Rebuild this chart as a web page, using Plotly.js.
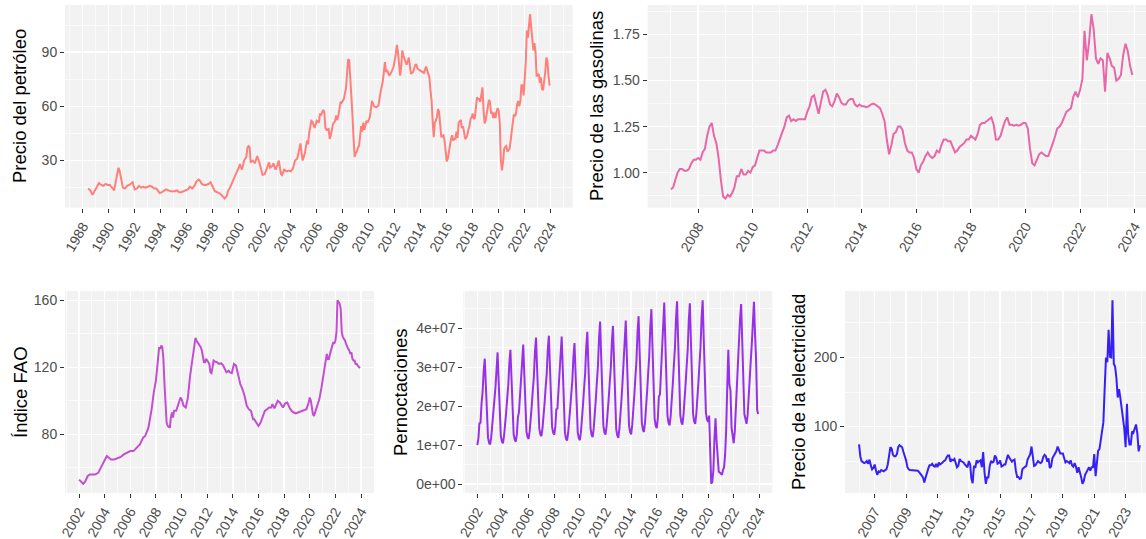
<!DOCTYPE html>
<html>
<head>
<meta charset="utf-8">
<script src="https://cdn.plot.ly/plotly-3.0.1.min.js"></script>
<style>
html,body{margin:0;padding:0;background:#ffffff;}
#chart{width:1146px;height:539px;}
</style>
</head>
<body>
<div id="chart"></div>
<script>
// ---------- helper for consecutive monthly dates ----------
function monthSeq(startYear, startMonth, n) {
  const out = [];
  for (let i = 0; i < n; i++) {
    const m = startMonth - 1 + i;
    const y = startYear + Math.floor(m / 12);
    const mm = (m % 12) + 1;
    out.push(y + '-' + String(mm).padStart(2, '0') + '-01');
  }
  return out;
}

// ---------- Precio del petróleo (irregular samples up to 2014, monthly from 2015) ----------
const oilDatesEarly = [
  '1988-06','1988-08','1988-10','1988-12',
  '1989-02','1989-04','1989-06','1989-08','1989-10','1989-12',
  '1990-02','1990-04','1990-06','1990-08','1990-10','1990-11','1990-12',
  '1991-02','1991-04','1991-06','1991-08','1991-10','1991-11',
  '1992-01','1992-03','1992-05','1992-07','1992-09','1992-11',
  '1993-01','1993-03','1993-05','1993-07','1993-09','1993-11','1993-12',
  '1994-02','1994-04','1994-06','1994-08','1994-10','1994-12',
  '1995-02','1995-04','1995-06','1995-08','1995-10','1995-12',
  '1996-02','1996-04','1996-06','1996-08','1996-10','1996-12',
  '1997-01','1997-03','1997-05','1997-07','1997-09','1997-11',
  '1998-01','1998-03','1998-05','1998-07','1998-09','1998-11','1998-12',
  '1999-02','1999-03','1999-05','1999-07','1999-09','1999-11',
  '2000-01','2000-02','2000-04','2000-06','2000-08','2000-09','2000-10','2000-11','2000-12',
  '2001-02','2001-04','2001-05','2001-06','2001-08','2001-10','2001-11',
  '2002-01','2002-03','2002-05','2002-06','2002-08','2002-09','2002-11',
  '2003-01','2003-02','2003-04','2003-05','2003-07','2003-09','2003-11',
  '2004-01','2004-03','2004-05','2004-07','2004-08','2004-10','2004-11','2004-12',
  '2005-02','2005-04','2005-05','2005-06','2005-08','2005-09','2005-11',
  '2006-01','2006-03','2006-04','2006-05','2006-07','2006-08','2006-09','2006-10','2006-12',
  '2007-01','2007-02','2007-04','2007-06','2007-07','2007-08','2007-09','2007-11','2007-12',
  '2008-02','2008-04','2008-05','2008-06','2008-07','2008-08','2008-09','2008-10','2008-11','2008-12',
  '2009-01','2009-02','2009-03','2009-04','2009-05','2009-06','2009-07','2009-08','2009-09','2009-10','2009-11','2009-12',
  '2010-02','2010-04','2010-05','2010-06','2010-08','2010-10','2010-12',
  '2011-02','2011-04','2011-05','2011-06','2011-08','2011-10','2011-11','2011-12',
  '2012-02','2012-03','2012-04','2012-05','2012-06','2012-07','2012-08','2012-09','2012-11','2012-12',
  '2013-02','2013-03','2013-04','2013-06','2013-08','2013-09','2013-10','2013-12',
  '2014-02','2014-04','2014-06','2014-07','2014-08','2014-09','2014-10','2014-11','2014-12'
];
const oilValuesEarly = [
  14.5,13.5,11.0,13.5,
  15.5,17.5,16.5,16.0,17.0,16.5,
  16.5,15.0,13.5,20.0,26.0,24.5,21.0,
  15.0,14.5,16.0,16.5,17.5,18.0,
  14.0,14.5,16.0,15.0,15.5,15.0,
  15.5,16.0,15.5,14.5,14.5,12.5,12.0,
  12.5,13.5,14.0,13.5,13.0,13.0,
  13.0,13.5,12.5,12.5,13.0,13.5,
  14.0,15.5,14.5,16.0,18.5,19.5,
  19.0,17.0,16.5,16.5,17.0,18.0,
  15.0,13.0,12.5,12.0,11.0,10.0,9.0,
  10.5,13.0,15.0,18.0,21.5,23.5,
  26.0,28.0,25.0,30.0,32.0,37.0,38.0,37.5,29.0,
  30.0,28.5,31.5,32.5,29.0,24.0,22.0,
  22.5,26.0,29.0,26.0,27.0,28.5,25.0,
  28.0,30.0,22.5,22.0,25.0,24.0,24.5,
  24.0,25.5,30.0,31.0,34.0,39.5,34.0,30.0,
  34.0,41.0,39.0,45.0,52.0,51.5,48.0,
  52.0,51.0,56.0,55.0,58.0,57.0,48.0,47.0,47.5,
  42.0,44.0,50.0,52.0,55.0,52.5,55.0,62.5,62.0,
  64.0,70.0,79.0,86.0,85.5,77.0,68.0,55.0,42.0,32.0,
  34.0,35.0,37.0,38.0,43.0,49.0,46.0,51.0,47.0,50.0,52.0,51.0,
  54.0,63.0,61.0,60.0,59.5,60.5,68.0,
  74.0,84.5,79.0,80.0,77.0,79.0,81.0,82.0,
  89.0,94.0,90.0,84.0,77.0,82.0,91.0,88.0,84.0,83.0,
  87.0,83.0,78.0,79.0,83.0,83.0,81.0,80.0,
  79.0,78.5,82.0,80.0,77.0,76.0,69.0,63.5,52.0
];
const oilValuesMonthly2015 = [
  43,51,52,54,58.5,57,51,43,43.5,44,41,35,
  29.5,31,35,37,42,44,41,42,42,46,42.5,51,
  52,52.5,48,49,46,42,42.5,44,47,49,53,54,
  56,53,53.5,58,65,64,64,62.5,67,70.5,58,50.5,
  52.5,56,59,63.5,62.5,56,57,53.5,56.5,53.5,57,59,
  57.5,50.5,30,24.5,29,36.5,37.5,38,35,35.5,36.5,41,
  45.5,51.5,55.5,54.5,56,61,63,60,63,72,71.5,66,
  75,85,102,98,105,111,104,98,91,95,90,77,
  77,78,73,76,69.5,69,73,79,87,85,77,71.5
];
const oilDates = oilDatesEarly.concat(monthSeq(2015, 1, oilValuesMonthly2015.length));
const oilValues = oilValuesEarly.concat(oilValuesMonthly2015);

// ---------- Precio de las gasolinas (monthly, 2007-01 .. 2023-12) ----------
const gasValues = [
  0.91,0.92,0.96,1.00,1.02,1.02,1.01,1.01,1.02,1.05,1.07,1.07,
  1.08,1.07,1.11,1.13,1.20,1.25,1.27,1.20,1.16,1.08,0.96,0.87,
  0.86,0.88,0.87,0.89,0.92,0.98,0.98,1.02,0.99,0.99,1.01,1.00,
  1.03,1.04,1.08,1.12,1.12,1.12,1.11,1.11,1.11,1.12,1.12,1.15,
  1.19,1.22,1.25,1.30,1.31,1.28,1.29,1.28,1.29,1.29,1.29,1.29,
  1.33,1.36,1.41,1.42,1.37,1.32,1.38,1.44,1.45,1.42,1.37,1.36,
  1.39,1.43,1.41,1.38,1.37,1.37,1.39,1.40,1.40,1.37,1.36,1.37,
  1.36,1.36,1.355,1.36,1.37,1.375,1.37,1.36,1.35,1.32,1.28,1.18,
  1.10,1.15,1.21,1.22,1.25,1.25,1.23,1.16,1.12,1.11,1.11,1.08,
  1.02,1.00,1.04,1.06,1.09,1.11,1.09,1.08,1.09,1.12,1.11,1.15,
  1.18,1.18,1.17,1.17,1.14,1.11,1.12,1.14,1.15,1.16,1.18,1.18,
  1.20,1.19,1.18,1.21,1.26,1.27,1.27,1.28,1.29,1.30,1.26,1.18,
  1.18,1.20,1.24,1.28,1.30,1.26,1.26,1.255,1.26,1.255,1.26,1.27,
  1.27,1.24,1.13,1.05,1.04,1.07,1.10,1.11,1.10,1.09,1.09,1.12,
  1.16,1.20,1.24,1.25,1.27,1.30,1.33,1.34,1.35,1.41,1.44,1.41,
  1.45,1.51,1.77,1.61,1.71,1.86,1.78,1.62,1.59,1.62,1.61,1.44,
  1.65,1.62,1.58,1.57,1.50,1.51,1.53,1.64,1.70,1.66,1.58,1.53
];
const gasDates = monthSeq(2007, 1, gasValues.length);

// ---------- Índice FAO (irregular samples, 2002 .. 2023) ----------
const faoDates = [
  '2002-01','2002-03','2002-05','2002-07','2002-09','2002-11',
  '2003-01','2003-04','2003-07','2003-10',
  '2004-01','2004-03','2004-05','2004-07','2004-10',
  '2005-01','2005-04','2005-07','2005-10',
  '2006-01','2006-04','2006-07','2006-10',
  '2007-01','2007-03','2007-06','2007-09','2007-11',
  '2008-01','2008-03','2008-04','2008-05','2008-06','2008-07','2008-08','2008-09','2008-10','2008-11','2008-12',
  '2009-02','2009-03','2009-04','2009-05','2009-06','2009-08','2009-10','2009-12',
  '2010-01','2010-03','2010-05','2010-07','2010-09','2010-11',
  '2011-01','2011-02','2011-03','2011-05','2011-07','2011-08','2011-09','2011-10','2011-11','2011-12',
  '2012-01','2012-03','2012-04','2012-05','2012-06','2012-07','2012-08','2012-10','2012-12',
  '2013-02','2013-04','2013-06','2013-07','2013-09','2013-10','2013-12',
  '2014-01','2014-02','2014-04','2014-06','2014-08','2014-10','2014-12',
  '2015-02','2015-04','2015-06','2015-07','2015-08','2015-09','2015-10','2015-12',
  '2016-01','2016-03','2016-05','2016-07','2016-09','2016-11',
  '2017-01','2017-02','2017-04','2017-06','2017-07','2017-09','2017-11','2017-12',
  '2018-02','2018-04','2018-06','2018-08','2018-10','2018-12',
  '2019-02','2019-04','2019-06','2019-08','2019-10','2019-12',
  '2020-01','2020-02','2020-03','2020-04','2020-05','2020-06','2020-07','2020-08','2020-10','2020-12',
  '2021-02','2021-04','2021-05','2021-06','2021-07','2021-08','2021-09','2021-10','2021-11','2021-12',
  '2022-01','2022-02','2022-03','2022-04','2022-05','2022-06','2022-07','2022-08','2022-09','2022-10','2022-11','2022-12',
  '2023-01','2023-02','2023-03','2023-04','2023-05','2023-06','2023-07','2023-08','2023-09','2023-10','2023-11','2023-12'
];
const faoValues = [
  53,52,50.5,52,55,56,
  56,56,57,61,
  64,67,66,65,65,
  66,66.5,68,69,
  70,70,72,74,
  78,79,84,95,105,
  112,125,132,131,133,132,125,110,97,87,85,
  84,90,93,90,94,94,98,102,
  101,97,96,102,115,125,
  133,137.5,136,134,132,130,126,123,123,125,
  124,122,117,116.5,120,124,123.5,123,122,
  122.5,121,118,117,118,117,116.5,
  119,122,121,116,110,107,103,
  97,95,94,92,89,89,88,86.5,
  85,87,90,94,95,96,
  96,98,95.5,98,100,99,97,96,
  98.5,99,96,94,93,92.5,
  93,93.5,94,94.5,95,99,
  102,100,95,92,91,93,94,97,101,108,
  116,122,128,125,125,128,130,133,135,134,
  136,141,160,159,158,155,141,138,137,136,134,132,
  131,130,128,129,125,124,124,122,122,121,120.5,119.5
];

// ---------- Pernoctaciones (millions, monthly 2002-01 .. 2023-12) ----------
const pernValuesMillions = [
  10.0,11.8,15.6,15.8,20.7,23.8,29.1,32.2,25.2,20.1,12.0,10.6,
  10.2,12.1,14.5,18.0,21.5,24.8,30.5,33.8,26.3,21.0,12.4,11.0,
  10.5,12.4,16.5,18.4,22.0,25.4,31.1,34.5,27.0,21.5,12.8,11.4,
  10.9,12.9,17.1,18.5,22.9,26.3,32.3,35.8,28.1,22.5,13.5,12.1,
  11.6,13.7,18.1,20.2,24.1,27.7,34.0,37.6,29.5,23.7,14.3,12.8,
  12.3,14.4,18.8,20.8,24.7,28.3,34.5,38.1,30.0,24.1,14.7,13.2,
  12.7,14.7,19.2,19.4,24.8,28.3,34.4,37.9,29.4,23.2,13.3,11.7,
  11.2,13.2,17.5,19.5,23.2,26.7,32.7,36.2,28.2,22.5,13.3,11.8,
  11.3,13.5,18.3,20.5,24.6,28.5,35.2,39.1,30.5,24.3,14.3,12.6,
  12.1,14.5,19.5,21.9,26.3,30.5,37.6,41.7,32.4,25.8,15.0,13.3,
  12.7,14.9,19.7,21.9,26.1,30.0,36.7,40.6,31.4,24.8,14.2,12.5,
  11.9,14.3,19.4,21.8,26.3,30.6,37.8,42.0,32.7,26.0,15.1,13.4,
  12.8,15.2,20.4,22.8,27.3,31.6,38.9,43.1,33.6,26.8,15.8,14.0,
  13.4,15.9,21.3,23.8,28.5,33.0,40.5,44.9,35.1,28.1,16.8,15.0,
  14.4,17.0,22.5,23.0,29.9,34.4,42.1,46.6,36.5,29.3,17.6,15.7,
  15.1,17.6,23.1,25.6,30.4,34.8,42.4,46.9,36.8,29.5,17.8,15.9,
  15.3,17.8,23.1,25.6,30.2,34.6,42.0,46.4,36.5,29.4,18.0,16.1,
  15.5,18.0,23.4,26.0,30.7,35.2,42.8,47.2,37.2,30.0,18.5,16.6,
  16.0,17.6,7.5,0.1,0.6,3.5,11.5,16.9,11.0,8.0,3.2,3.0,
  2.6,2.4,3.6,4.3,7.5,14.0,25.0,34.5,25.5,24.0,14.5,13.0,
  10.5,13.5,19.5,26.5,30.5,35.0,42.5,46.2,37.5,30.5,18.0,16.8,
  15.5,17.5,23.0,28.0,31.5,36.0,43.0,46.8,38.5,32.0,19.0,18.0
];
const pernDates = monthSeq(2002, 1, pernValuesMillions.length);
const pernTickVals = [0, 10, 20, 30, 40];
const pernTickText = ['0e+00', '1e+07', '2e+07', '3e+07', '4e+07'];

// ---------- Precio de la electricidad (monthly, 2006-01 .. 2023-12) ----------
const elecValues = [
  74,56,50,49,47,48,50,46,52,44,38,40,
  45,36,30,35,34,37,36,35,37,38,45,60,
  70,68,59,57,57,60,70,73,72,70,63,57,
  51,41,38,37,37,37,36,36,37,36,34,32,
  29,26,19,26,35,39,44,44,46,43,42,46,
  41,48,45,46,48,50,51,55,58,58,49,52,
  51,53,48,41,43,53,50,49,48,45,42,41,
  50,45,25,18,43,40,51,48,50,51,41,63,
  34,17,26,26,42,50,48,49,58,55,46,47,
  51,42,43,45,45,54,59,55,51,49,51,52,
  36,27,27,24,25,38,40,41,43,52,56,60,
  71,51,43,44,47,50,48,47,49,56,59,57,
  49,54,40,42,54,58,61,64,71,65,61,61,
  61,54,48,50,48,47,51,44,42,47,42,33,
  41,35,27,17,21,30,34,36,41,36,41,41,
  60,28,45,65,67,83,92,106,156,200,193,240,
  201,200,283,191,187,170,142,154,141,127,114,97,
  70,133,89,74,74,93,91,96,103,90,64,73
];
const elecDates = monthSeq(2006, 1, elecValues.length);

// ---------- styling ----------
const W = 1146, H = 539;
const FONT = 'Liberation Sans, Arial, Helvetica, sans-serif';
const PANEL_BG = '#F2F2F2';
const TICK_FONT = {family: FONT, size: 14, color: '#4D4D4D'};
const TITLE_FONT = {family: FONT, size: 18.5, color: '#000000'};

function dom(a, b, total) { return [a / total, b / total]; }
function ydom(top, bottom) { return [1 - bottom / H, 1 - top / H]; }

function xAxis(domain, range, tick0, anchor) {
  return {
    domain: domain, anchor: anchor, type: 'date', range: range,
    tickmode: 'linear', tick0: tick0, dtick: 'M24', tickformat: '%Y',
    tickangle: -60, ticks: 'outside', ticklen: 4, tickwidth: 1, tickcolor: '#333333',
    tickfont: TICK_FONT, showgrid: true, gridcolor: '#FFFFFF', gridwidth: 1.4,
    minor: {tick0: tick0, dtick: 'M12', showgrid: true, gridcolor: '#FFFFFF', gridwidth: 0.7},
    zeroline: false, showline: false, fixedrange: true
  };
}
function yAxis(domain, range, tick0, dtick, minorDtick, anchor, fmt) {
  return {
    domain: domain, anchor: anchor, range: range,
    tickmode: 'linear', tick0: tick0, dtick: dtick, tickformat: fmt || '',
    ticks: 'outside', ticklen: 4, tickwidth: 1, tickcolor: '#333333',
    tickfont: TICK_FONT, showgrid: true, gridcolor: '#FFFFFF', gridwidth: 1.4,
    minor: {tick0: 0, dtick: minorDtick, showgrid: true, gridcolor: '#FFFFFF', gridwidth: 0.7},
    zeroline: false, showline: false, fixedrange: true
  };
}

const traces = [
  {x: oilDates, y: oilValues, xaxis: 'x', yaxis: 'y', type: 'scatter', mode: 'lines',
   line: {color: '#FF7F7A', width: 2}, hoverinfo: 'skip'},
  {x: gasDates, y: gasValues, xaxis: 'x2', yaxis: 'y2', type: 'scatter', mode: 'lines',
   line: {color: '#E867A6', width: 2}, hoverinfo: 'skip'},
  {x: faoDates, y: faoValues, xaxis: 'x3', yaxis: 'y3', type: 'scatter', mode: 'lines',
   line: {color: '#C24FCF', width: 2}, hoverinfo: 'skip'},
  {x: pernDates, y: pernValuesMillions, xaxis: 'x4', yaxis: 'y4', type: 'scatter', mode: 'lines',
   line: {color: '#9731E6', width: 2}, hoverinfo: 'skip'},
  {x: elecDates, y: elecValues, xaxis: 'x5', yaxis: 'y5', type: 'scatter', mode: 'lines',
   line: {color: '#3520F6', width: 2}, hoverinfo: 'skip'}
];

const topRow = ydom(5, 207.7);
const botRow = ydom(291, 493);

const y4 = yAxis(ydom(291, 493), [-2.26, 49.56], 0, 10, 5, 'x4');
y4.tickmode = 'array'; y4.tickvals = pernTickVals; y4.ticktext = pernTickText;

function vtitle(text, xpx, ycenterpx) {
  return {text: text, x: xpx / W, y: 1 - ycenterpx / H, xref: 'paper', yref: 'paper',
          xanchor: 'center', yanchor: 'middle', textangle: -90, showarrow: false, font: TITLE_FONT};
}

const layout = {
  width: W, height: H,
  margin: {l: 0, r: 0, t: 0, b: 0, pad: 0},
  paper_bgcolor: '#FFFFFF', plot_bgcolor: PANEL_BG,
  showlegend: false, font: {family: FONT},
  xaxis:  xAxis(dom(65, 572.7, W), ['1986-08-20', '2025-09-10'], '1988-01-01', 'y'),
  yaxis:  yAxis(topRow, [3.9, 116.1], 0, 30, 15, 'x'),
  xaxis2: xAxis(dom(647.7, 1146, W), ['2006-02-25', '2024-06-01'], '2008-01-01', 'y2'),
  yaxis2: yAxis(topRow, [0.81, 1.91], 0, 0.25, 0.125, 'x2', '.2f'),
  xaxis3: xAxis(dom(65, 374, W), ['2000-11-27', '2025-01-05'], '2002-01-01', 'y3'),
  yaxis3: yAxis(botRow, [45.0, 165.5], 0, 40, 20, 'x3'),
  xaxis4: xAxis(dom(463.3, 772.3, W), ['2000-11-27', '2025-01-05'], '2002-01-01', 'y4'),
  yaxis4: y4,
  xaxis5: xAxis(dom(845, 1146, W), ['2005-02-08', '2024-04-20'], '2007-01-01', 'y5'),
  yaxis5: yAxis(botRow, [3.7, 296.3], 0, 100, 50, 'x5'),
  annotations: [
    vtitle('Precio del petróleo', 20, 106),
    vtitle('Precio de las gasolinas', 597, 106),
    vtitle('Índice FAO', 20, 392),
    vtitle('Pernoctaciones', 400, 392),
    vtitle('Precio de la electricidad', 798, 392)
  ]
};

Plotly.newPlot('chart', traces, layout, {displayModeBar: false, staticPlot: true});
</script>
</body>
</html>
